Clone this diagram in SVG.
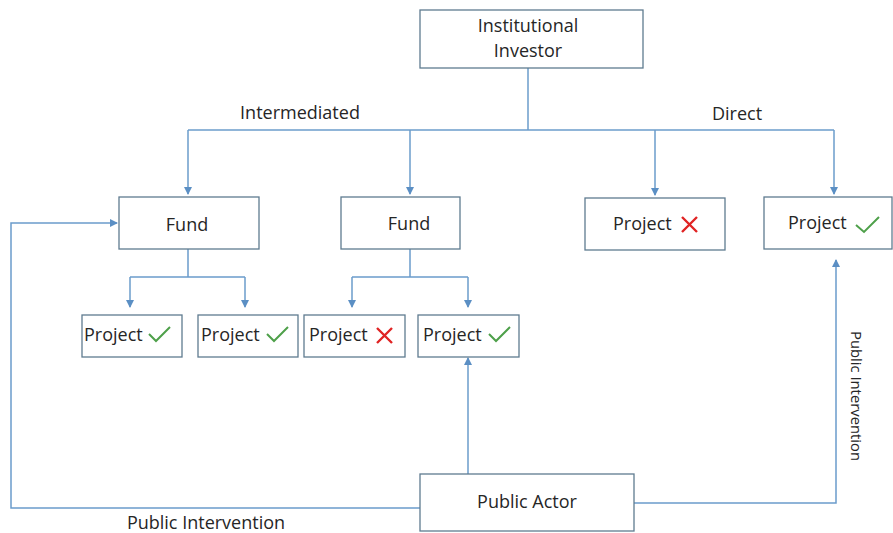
<svg xmlns="http://www.w3.org/2000/svg" width="893" height="533" viewBox="0 0 893 533">
<style>
.box{fill:#fff;stroke:#5f7b90;stroke-width:1.3}
.t{font-family:"Open Sans","Liberation Sans",sans-serif;font-size:18px;fill:#262626}
.lbl{font-family:"Open Sans","Liberation Sans",sans-serif;font-size:18px;fill:#262626}
.c{fill:none;stroke:#6b9ccb;stroke-width:1.5}
.ok{fill:none;stroke:#4ea04a;stroke-width:2}
.no{fill:none;stroke:#e02424;stroke-width:2.4}
</style>
<defs>
<marker id="ah" markerWidth="8" markerHeight="8" refX="7" refY="4" orient="auto" markerUnits="userSpaceOnUse">
<path d="M0,0 L8,4 L0,8 Z" fill="#5b8fc4"/>
</marker>
</defs>
<rect width="893" height="533" fill="#fff"/>
<g id="connectors">
<path class="c" d="M528,68 V130"/>
<path class="c" d="M188,130 H834"/>
<path class="c" d="M188,130 V194" marker-end="url(#ah)"/>
<path class="c" d="M410,130 V194" marker-end="url(#ah)"/>
<path class="c" d="M655,130 V195" marker-end="url(#ah)"/>
<path class="c" d="M834,130 V194" marker-end="url(#ah)"/>
<path class="c" d="M188,249 V277 M130,277 H245"/>
<path class="c" d="M130,277 V307" marker-end="url(#ah)"/>
<path class="c" d="M245,277 V307" marker-end="url(#ah)"/>
<path class="c" d="M410,249 V277 M352,277 H468"/>
<path class="c" d="M352,277 V307" marker-end="url(#ah)"/>
<path class="c" d="M468,277 V307" marker-end="url(#ah)"/>
<path class="c" d="M468,474 V358" marker-end="url(#ah)"/>
<path class="c" d="M420,508 H11 V223 H117" marker-end="url(#ah)"/>
<path class="c" d="M634,503 H836 V260" marker-end="url(#ah)"/>
</g>
<g id="labels">
<text class="lbl" x="300" y="119" text-anchor="middle">Intermediated</text>
<text class="lbl" x="737" y="120" text-anchor="middle">Direct</text>
<text class="lbl" x="206" y="529" text-anchor="middle">Public Intervention</text>
<text class="lbl" style="font-size:14.8px" transform="translate(851,396) rotate(90)" text-anchor="middle">Public Intervention</text>
</g>
<g id="investor">
<rect class="box" x="420" y="10" width="223" height="58"/>
<text class="t" x="528" y="32" text-anchor="middle">Institutional</text>
<text class="t" x="528" y="57" text-anchor="middle">Investor</text>
</g>
<g id="fund1">
<rect class="box" x="119" y="197" width="140" height="52"/>
<text class="t" x="187" y="231" text-anchor="middle">Fund</text>
</g>
<g id="fund2">
<rect class="box" x="341" y="197" width="119" height="52"/>
<text class="t" x="409" y="230" text-anchor="middle">Fund</text>
</g>
<g id="projectDirectX">
<rect class="box" x="585" y="198" width="140" height="52"/>
<text class="t" x="613" y="230">Project</text>
<path class="no" d="M682,217 L697,232 M697,217 L682,232"/>
</g>
<g id="projectDirectOk">
<rect class="box" x="764" y="197" width="128" height="52"/>
<text class="t" x="788" y="229">Project</text>
<path class="ok" d="M856,225 L864,232 L879,217"/>
</g>
<g id="project1">
<rect class="box" x="82" y="315" width="100" height="42"/>
<text class="t" x="84" y="341">Project</text>
<path class="ok" d="M149,334 L156,341 L170,327"/>
</g>
<g id="project2">
<rect class="box" x="198" y="315" width="100" height="42"/>
<text class="t" x="201" y="341">Project</text>
<path class="ok" d="M267,334 L274,341 L288,327"/>
</g>
<g id="project3">
<rect class="box" x="304" y="315" width="101" height="42"/>
<text class="t" x="309" y="341">Project</text>
<path class="no" d="M377,328 L392,343 M392,328 L377,343"/>
</g>
<g id="project4">
<rect class="box" x="418" y="315" width="101" height="42"/>
<text class="t" x="423" y="341">Project</text>
<path class="ok" d="M489,334 L496,341 L510,327"/>
</g>
<g id="publicActor">
<rect class="box" x="420" y="474" width="214" height="57"/>
<text class="t" x="527" y="508" text-anchor="middle">Public Actor</text>
</g>
</svg>
